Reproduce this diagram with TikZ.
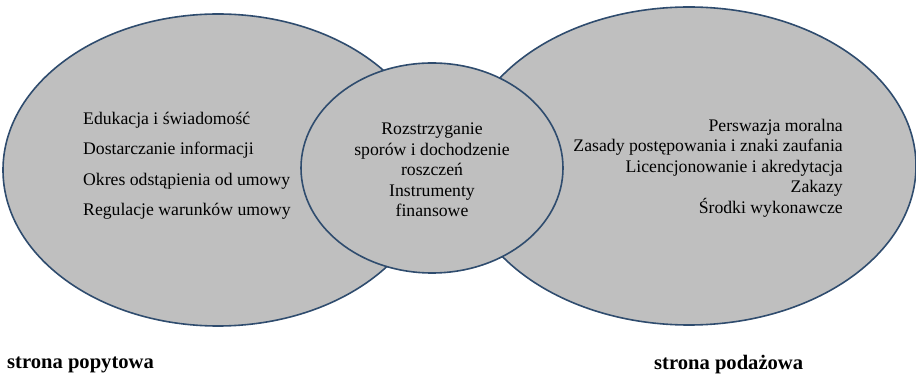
\documentclass[tikz,border=0pt]{standalone}
\usepackage{fontspec}
\setmainfont{Liberation Serif}
\usepackage{xcolor}
\usetikzlibrary{shapes.geometric}
\definecolor{elfill}{RGB}{191,191,191}
\definecolor{eldraw}{RGB}{47,76,110}

\begin{document}
\begin{tikzpicture}[x=1pt,y=1pt,
  e/.style={ellipse,draw=eldraw,fill=elfill,line width=1.6pt,inner sep=0pt},
  t/.style={inner sep=0pt,font=\fontsize{17.7}{20.6}\selectfont},
  b/.style={inner sep=0pt,anchor=west,font=\fontsize{20.6}{24}\selectfont\bfseries}]
\useasboundingbox (0,0) rectangle (916,375);
\node[e,minimum width=430,minimum height=312] (popyt) at (218,205) {};
\node[e,minimum width=454,minimum height=318] (podaz) at (689,209) {};
\node[e,minimum width=262,minimum height=210] (wsp) at (432,207) {};
\node[t,anchor=west,align=left,font=\fontsize{17.7}{30.5}\selectfont] (lista1) at (83,209)
  {Edukacja i świadomość\\Dostarczanie informacji\\Okres odstąpienia od umowy\\Regulacje warunków umowy};
\node[t,align=center] (lista2) at (432,205)
  {Rozstrzyganie\\sporów i dochodzenie\\roszczeń\\Instrumenty\\finansowe};
\node[t,anchor=east,align=right] (lista3) at (843,207)
  {Perswazja moralna\\Zasady postępowania i znaki zaufania\\Licencjonowanie i akredytacja\\Zakazy\\Środki wykonawcze};
\node[b] (lpop) at (7,10) {strona popytowa};
\node[b] (lpod) at (654,10) {strona podażowa};
\end{tikzpicture}
\end{document}
